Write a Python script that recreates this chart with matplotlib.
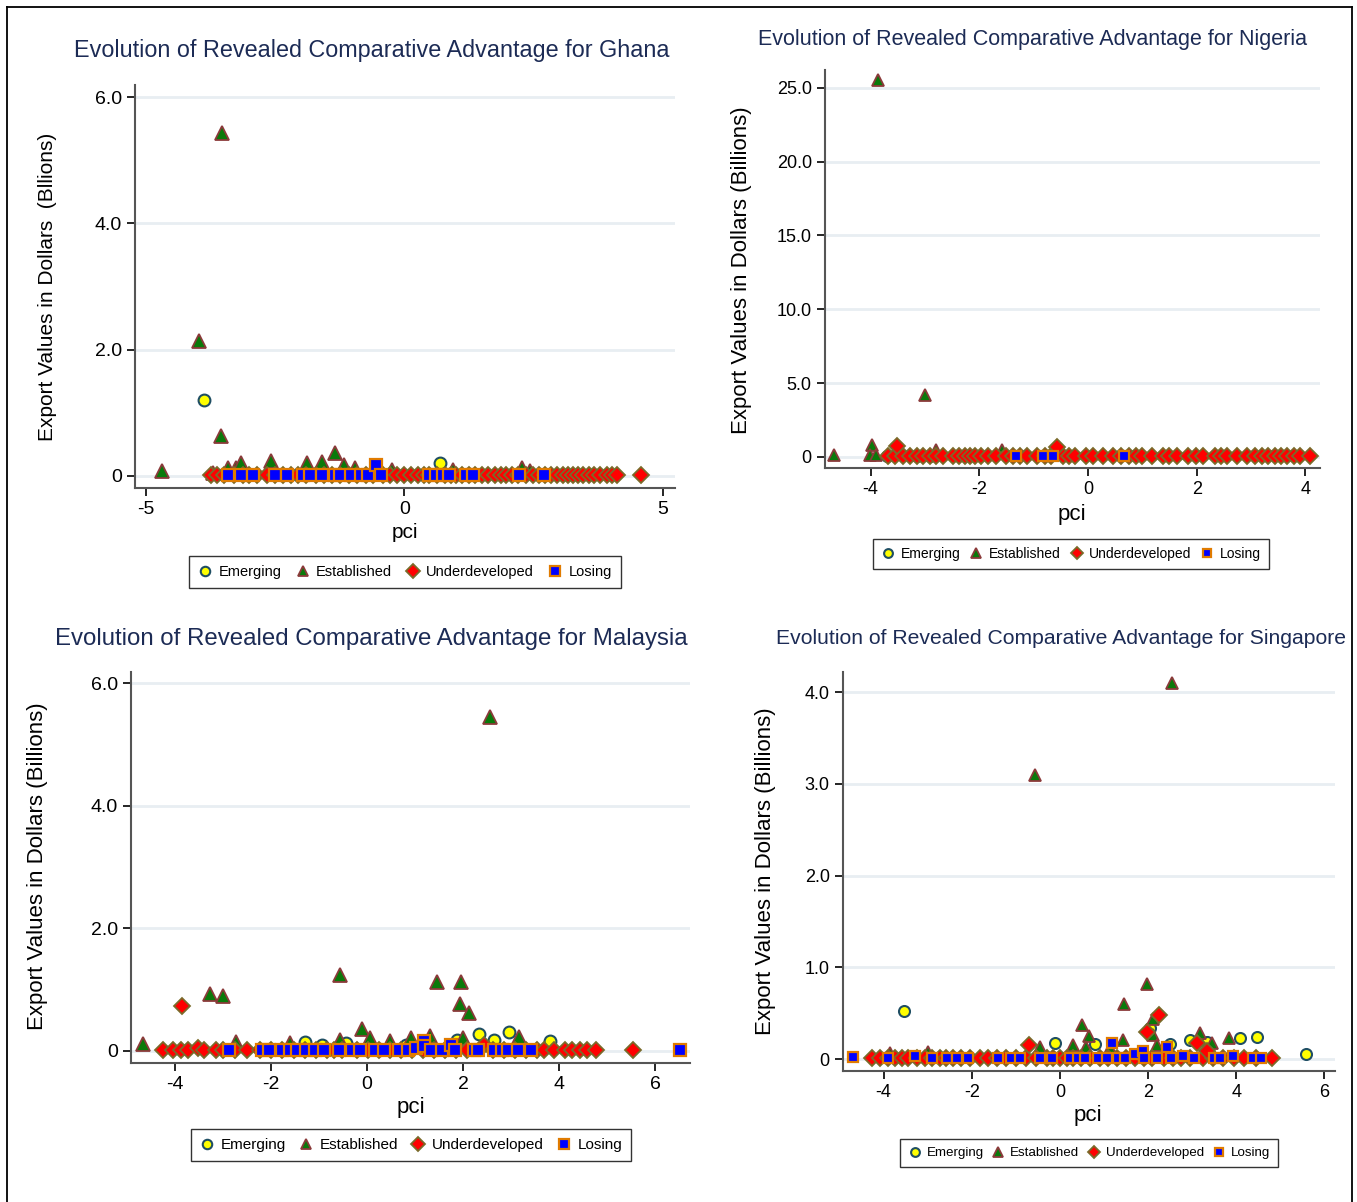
import matplotlib
matplotlib.use("Agg")
import matplotlib.pyplot as plt
from matplotlib.lines import Line2D

plt.rcParams['font.family'] = ['Liberation Sans Narrow', 'Liberation Sans', 'DejaVu Sans']

# ---------------- Ghana ----------------
gh_em_x = [-3.87, 0.68]
gh_em_y = [1.21, 0.20]
gh_es_x = [-3.52, -3.98, -3.54, -4.68, -3.70, -3.42, -3.25, -3.17, -2.59, -1.88, -1.59, -1.35, -1.16, -0.96, -0.25, 0.93, 2.27, 2.42]
gh_es_y = [5.43, 2.14, 0.63, 0.08, 0.05, 0.12, 0.12, 0.20, 0.24, 0.21, 0.22, 0.37, 0.18, 0.12, 0.10, 0.10, 0.12, 0.08]
gh_ud_x = [-3.75, -3.62, -3.48, -3.30, -3.12, -3.00, -2.85, -2.66, -2.50, -2.35, -2.20, -2.05, -1.90, -1.72,
           -1.55, -1.40, -1.25, -1.08, -0.92, -0.75, -0.60, -0.42, -0.28, -0.15, 0.00, 0.13, 0.27, 0.38,
           0.48, 0.62, 0.78, 0.90, 1.00, 1.12, 1.25, 1.37, 1.49, 1.62, 1.75, 1.86, 1.97, 2.07, 2.20, 2.34,
           2.48, 2.60, 2.72, 2.84, 2.94, 3.07, 3.16, 3.25, 3.36, 3.46, 3.56, 3.66, 3.78, 3.91, 4.02, 4.11, 4.58]
gh_ud_y = [0.02, 0.01, 0.01, 0.02, 0.01, 0.01, 0.02, 0.01, 0.01, 0.02, 0.01, 0.01, 0.02, 0.01,
           0.01, 0.02, 0.01, 0.01, 0.02, 0.01, 0.01, 0.02, 0.01, 0.01, 0.02, 0.01, 0.01, 0.02,
           0.01, 0.01, 0.02, 0.01, 0.01, 0.02, 0.01, 0.01, 0.02, 0.01, 0.01, 0.02, 0.01, 0.01, 0.02, 0.01,
           0.01, 0.02, 0.01, 0.01, 0.02, 0.01, 0.01, 0.02, 0.01, 0.01, 0.02, 0.01, 0.01, 0.02, 0.01, 0.01, 0.01]
gh_lo_x = [-3.42, -3.17, -2.92, -2.51, -2.28, -1.97, -1.82, -1.59, -1.35, -1.24, -1.03, -0.85, -0.70, -0.56,
           -0.46, 0.48, 0.60, 0.75, 0.87, 1.18, 1.33, 2.21, 2.69]
gh_lo_y = [0.01, 0.01, 0.01, 0.01, 0.01, 0.01, 0.01, 0.01, 0.01, 0.01, 0.01, 0.01, 0.01, 0.17,
           0.01, 0.02, 0.01, 0.01, 0.01, 0.01, 0.01, 0.01, 0.01]

# ---------------- Nigeria ----------------
ng_em_x = [-3.70, -3.15, -2.91]
ng_em_y = [0.05, 0.05, 0.05]
ng_es_x = [-3.87, -3.00, -4.68, -3.98, -4.02, -3.90, -2.80, -1.58, -0.55]
ng_es_y = [25.5, 4.22, 0.15, 0.84, 0.15, 0.15, 0.45, 0.50, 0.60]
ng_ud_x = [-3.68, -3.55, -3.41, -3.28, -3.15, -3.03, -2.91, -2.79, -2.67, -2.49, -2.38, -2.27, -2.17, -2.08,
           -1.96, -1.84, -1.70, -1.51, -1.38, -1.25, -1.12, -0.94, -0.80, -0.68, -0.46, -0.35, -0.24, -0.04,
           0.10, 0.28, 0.46, 0.60, 0.75, 0.88, 0.99, 1.18, 1.38, 1.50, 1.64, 1.84, 1.98, 2.12, 2.34, 2.45,
           2.56, 2.75, 2.93, 3.07, 3.20, 3.32, 3.44, 3.55, 3.67, 3.80, 3.91, 4.09, -3.52, -0.57]
ng_ud_y = [0.05, 0.05, 0.05, 0.05, 0.05, 0.05, 0.05, 0.05, 0.05, 0.05, 0.05, 0.05, 0.05, 0.05,
           0.05, 0.05, 0.05, 0.05, 0.05, 0.05, 0.05, 0.05, 0.05, 0.05, 0.05, 0.05, 0.05, 0.05,
           0.05, 0.05, 0.05, 0.05, 0.05, 0.05, 0.05, 0.05, 0.05, 0.05, 0.05, 0.05, 0.05, 0.05, 0.05, 0.05,
           0.05, 0.05, 0.05, 0.05, 0.05, 0.05, 0.05, 0.05, 0.05, 0.05, 0.05, 0.05, 0.72, 0.70]
ng_lo_x = [-1.33, -0.83, -0.64, 0.66]
ng_lo_y = [0.05, 0.05, 0.05, 0.05]

# ---------------- Malaysia ----------------
my_em_x = [-1.29, -0.93, -0.44, 0.81, 1.87, 2.34, 2.64, 2.95, 3.82]
my_em_y = [0.15, 0.10, 0.12, 0.10, 0.18, 0.27, 0.17, 0.30, 0.16]
my_es_x = [2.56, -4.68, -3.27, -3.00, -0.56, -0.11, 0.07, 1.45, 1.95, 1.93, 2.13, 3.16, 0.92, 1.32,
           -0.57, -2.73, -1.60, 1.99, 0.47]
my_es_y = [5.45, 0.11, 0.93, 0.89, 1.24, 0.35, 0.20, 1.12, 1.12, 0.76, 0.61, 0.23, 0.20, 0.24,
           0.17, 0.15, 0.12, 0.20, 0.16]
my_ud_x = [-4.25, -4.04, -3.88, -3.73, -3.52, -3.40, -3.14, -3.00, -2.75, -2.50, -2.23, -2.00, -1.77, -1.53,
           -1.30, -1.07, -0.84, -0.68, -0.53, -0.22, 0.01, 0.24, 0.47, 0.70, 0.93, 1.16, 1.39, 1.62,
           1.86, 2.09, 2.43, 2.63, 2.86, 3.09, 3.32, 3.55, 3.69, 3.90, 4.13, 4.28, 4.44, 4.59, 4.78,
           5.55, -3.86]
my_ud_y = [0.01, 0.01, 0.01, 0.01, 0.04, 0.01, 0.01, 0.01, 0.01, 0.01, 0.01, 0.01, 0.01, 0.01,
           0.01, 0.01, 0.01, 0.01, 0.01, 0.01, 0.01, 0.01, 0.01, 0.01, 0.01, 0.01, 0.01, 0.01,
           0.01, 0.01, 0.10, 0.01, 0.01, 0.01, 0.01, 0.01, 0.01, 0.01, 0.01, 0.01, 0.01, 0.01, 0.01,
           0.01, 0.73]
my_lo_x = [-2.88, -2.19, -2.04, -1.77, -1.61, -1.46, -1.27, -1.09, -0.90, -0.59, -0.32, -0.15, 0.16, 0.36,
           0.67, 0.85, 1.01, 1.18, 1.18, 1.34, 1.56, 1.74, 1.84, 2.22, 2.32, 2.64, 2.82, 2.93, 3.15, 3.41, 6.52]
my_lo_y = [0.01, 0.01, 0.01, 0.01, 0.01, 0.02, 0.01, 0.01, 0.01, 0.01, 0.01, 0.01, 0.01, 0.01,
           0.01, 0.01, 0.04, 0.16, 0.07, 0.01, 0.01, 0.10, 0.01, 0.01, 0.01, 0.01, 0.01, 0.01, 0.01, 0.01, 0.01]

# ---------------- Singapore ----------------
sg_em_x = [-3.54, -0.11, 0.79, 2.04, 2.95, 3.33, 4.08, 4.46, 5.58, 2.49]
sg_em_y = [0.52, 0.17, 0.16, 0.34, 0.21, 0.19, 0.23, 0.24, 0.05, 0.16]
sg_es_x = [2.54, -0.57, 1.97, 1.45, 0.50, 0.66, 1.43, 0.30, 2.11, 2.11, 3.17, 3.45, 3.83, -0.45,
           -3.00, -3.85, 0.59, 1.13, 2.20, 3.30]
sg_es_y = [4.10, 3.10, 0.82, 0.60, 0.37, 0.25, 0.21, 0.15, 0.44, 0.26, 0.28, 0.18, 0.23, 0.13,
           0.08, 0.07, 0.13, 0.12, 0.15, 0.10]
sg_ud_x = [-4.27, -4.08, -3.90, -3.74, -3.58, -3.44, -3.25, -3.06, -2.90, -2.72, -2.58, -2.43, -2.25, -2.05,
           -1.81, -1.62, -1.42, -1.22, -1.00, -0.76, -0.55, -0.30, -0.15, 0.00, 0.15, 0.30, 0.48, 0.68,
           0.90, 1.10, 1.30, 1.51, 1.70, 1.90, 2.10, 2.35, 2.57, 2.75, 2.95, 3.25, 3.48, 3.70, 3.95, 4.17,
           4.45, 4.80, 2.25, 1.97, -0.70, 3.10, 3.33]
sg_ud_y = [0.01, 0.01, 0.01, 0.01, 0.01, 0.01, 0.01, 0.01, 0.01, 0.01, 0.01, 0.01, 0.01, 0.01,
           0.01, 0.01, 0.01, 0.01, 0.01, 0.01, 0.01, 0.01, 0.01, 0.01, 0.01, 0.01, 0.01, 0.01,
           0.01, 0.01, 0.01, 0.01, 0.01, 0.01, 0.01, 0.01, 0.01, 0.01, 0.01, 0.01, 0.01, 0.01, 0.01, 0.01,
           0.01, 0.01, 0.48, 0.29, 0.15, 0.18, 0.09]
sg_lo_x = [-4.69, -3.91, -3.29, -2.89, -2.55, -2.33, -2.08, -1.40, -1.10, -0.91, -0.45, -0.17, 0.23, 0.42,
           0.57, 0.87, 1.06, 1.19, 1.32, 1.47, 1.70, 1.89, 1.90, 2.21, 2.43, 2.51, 2.80, 3.04, 3.49, 3.64,
           3.92, 4.37, 4.57]
sg_lo_y = [0.02, 0.01, 0.03, 0.01, 0.01, 0.01, 0.01, 0.01, 0.01, 0.01, 0.01, 0.01, 0.01, 0.01,
           0.01, 0.01, 0.01, 0.18, 0.01, 0.01, 0.05, 0.09, 0.01, 0.01, 0.13, 0.01, 0.03, 0.01, 0.01, 0.01,
           0.03, 0.01, 0.01]

W, H = 1357, 1202
fig = plt.figure(figsize=(W / 100, H / 100), dpi=100)

TITLE_C = '#1c2b55'
GRID_C = '#e8eef2'


def rect(l, t, r, b):
    return [l / W, 1 - b / H, (r - l) / W, (b - t) / H]


def fy(v):
    return '0' if v == 0 else f'{v:.1f}'


def panel(box, data, xlim, ylim, xticks, yticks, title, tpos, ylabel, ylpos, xlpos, legpos,
          scale=1.0, fs=14, tfs=17, lfs=15, legfs=10.5, colsp=1.0):
    ax = fig.add_axes(rect(*box))
    (emx, emy), (esx, esy), (udx, udy), (lox, loy) = data
    ax.plot(emx, emy, ls='none', marker='o', ms=8.5 * scale, mfc='#ffff00', mec='#1f4e63', mew=1.5,
            label='Emerging')
    ax.plot(esx, esy, ls='none', marker='^', ms=9.5 * scale, mfc='#0a7a0a', mec='#8b3a3a', mew=1.3,
            label='Established')
    ax.plot(udx, udy, ls='none', marker='D', ms=8.6 * scale, mfc='#ff0000', mec='#7a6a2a', mew=1.3,
            label='Underdeveloped')
    ax.plot(lox, loy, ls='none', marker='s', ms=8.3 * scale, mfc='#0000ff', mec='#e07b00', mew=1.6,
            label='Losing')
    ax.set_xlim(*xlim)
    ax.set_ylim(*ylim)
    ax.set_xticks(xticks)
    ax.set_yticks(yticks)
    ax.set_yticklabels([fy(v) for v in yticks])
    ax.set_xticklabels([str(v) for v in xticks])
    ax.tick_params(labelsize=fs, length=6, width=1.2, direction='out', colors='black')
    for s in ['top', 'right']:
        ax.spines[s].set_visible(False)
    for s in ['left', 'bottom']:
        ax.spines[s].set_color('#555555')
        ax.spines[s].set_linewidth(1.5)
    ax.grid(axis='y', color=GRID_C, lw=2)
    ax.set_axisbelow(True)
    fig.text(tpos[0] / W, 1 - tpos[1] / H, title, ha='center', va='center', fontsize=tfs, color=TITLE_C)
    fig.text(ylpos[0] / W, 1 - ylpos[1] / H, ylabel, ha='center', va='center', rotation=90, fontsize=lfs)
    fig.text(xlpos[0] / W, 1 - xlpos[1] / H, 'pci', ha='center', va='center', fontsize=lfs)
    ax.legend(loc='center', bbox_to_anchor=(legpos[0] / W, 1 - legpos[1] / H),
              bbox_transform=fig.transFigure, ncol=4, frameon=True, fancybox=False,
              edgecolor='black', fontsize=legfs, handletextpad=0.4, columnspacing=colsp,
              borderpad=0.6, handlelength=1.0, markerscale=0.8)
    return ax


panel((135, 85, 675, 488),
      [(gh_em_x, gh_em_y), (gh_es_x, gh_es_y), (gh_ud_x, gh_ud_y), (gh_lo_x, gh_lo_y)],
      (-5.21, 5.23), (-0.19, 6.19), [-5, 0, 5], [0, 2, 4, 6],
      'Evolution of Revealed Comparative Advantage for Ghana', (372, 50),
      'Export Values in Dollars  (Bllions)', (48, 287), (405, 532), (405, 572),
      tfs=16.8, colsp=0.95)

panel((825, 70, 1320, 468),
      [(ng_em_x, ng_em_y), (ng_es_x, ng_es_y), (ng_ud_x, ng_ud_y), (ng_lo_x, ng_lo_y)],
      (-4.84, 4.27), (-0.75, 26.2), [-4, -2, 0, 2, 4], [0, 5, 10, 15, 20, 25],
      'Evolution of Revealed Comparative Advantage for Nigeria', (1032, 40),
      'Export Values in Dollars (Billions)', (742, 270), (1072, 514), (1071, 554),
      scale=0.93, fs=13, tfs=15.5, lfs=16, legfs=10, colsp=0.65)

panel((131, 672, 690, 1063),
      [(my_em_x, my_em_y), (my_es_x, my_es_y), (my_ud_x, my_ud_y), (my_lo_x, my_lo_y)],
      (-4.92, 6.73), (-0.2, 6.18), [-4, -2, 0, 2, 4, 6], [0, 2, 4, 6],
      'Evolution of Revealed Comparative Advantage for Malaysia', (371, 639),
      'Export Values in Dollars (Billions)', (38, 866), (411, 1145 - 38), (411, 1145),
      fs=14, tfs=17.3, lfs=16, legfs=11, colsp=0.8)

panel((843, 672, 1335, 1071),
      [(sg_em_x, sg_em_y), (sg_es_x, sg_es_y), (sg_ud_x, sg_ud_y), (sg_lo_x, sg_lo_y)],
      (-4.92, 6.24), (-0.13, 4.22), [-4, -2, 0, 2, 4, 6], [0, 1, 2, 3, 4],
      'Evolution of Revealed Comparative Advantage for Singapore', (1061, 639),
      'Export Values in Dollars (Billions)', (766, 871), (1088, 1115), (1089, 1153),
      scale=0.93, fs=13, tfs=15.2, lfs=16, legfs=9.6, colsp=0.6)

# outer frame
for xs, ys in [((7, 7), (7, H)), ((7, 1352), (7, 7)), ((1352, 1352), (7, H))]:
    fig.add_artist(Line2D([x / W for x in xs], [1 - y / H for y in ys], color='black', lw=1.3))

fig.savefig('out.png', dpi=100)
